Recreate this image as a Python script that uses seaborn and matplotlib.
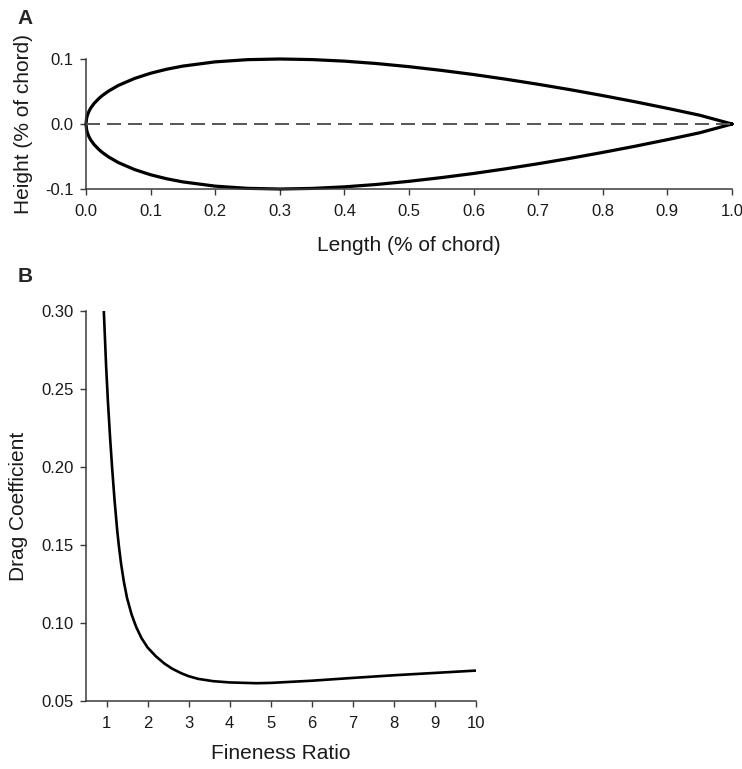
import numpy as np
import pandas as pd
import matplotlib
matplotlib.use("Agg")
import matplotlib.pyplot as plt
import seaborn as sns

# Panel A: symmetric section, half-thickness vs. chordwise position (fraction of chord)
chord_x = [0.0, 0.001, 0.0025, 0.005, 0.0075, 0.0125, 0.02, 0.025, 0.035, 0.05,
           0.075, 0.1, 0.125, 0.15, 0.2, 0.25, 0.3, 0.35, 0.4, 0.45, 0.5,
           0.55, 0.6, 0.65, 0.7, 0.75, 0.8, 0.85, 0.9, 0.95, 1.0]
half_thickness = [0.0, 0.0093, 0.0145, 0.0204, 0.0248, 0.0316, 0.0393, 0.0436, 0.0507, 0.0593,
                  0.0700, 0.0781, 0.0843, 0.0891, 0.0956, 0.0990, 0.1000, 0.0991, 0.0967, 0.0930, 0.0882,
                  0.0825, 0.0761, 0.0689, 0.0611, 0.0527, 0.0437, 0.0342, 0.0241, 0.0135, 0.0]
chord_line_x = [0.0, 1.0]
chord_line_y = [0.0, 0.0]
a_xticks = [0.0, 0.1, 0.2, 0.3, 0.4, 0.5, 0.6, 0.7, 0.8, 0.9, 1.0]
a_yticks = [-0.1, 0.0, 0.1]

# Panel B: drag coefficient vs. fineness ratio
fineness = [0.934, 0.99, 1.032, 1.088, 1.137, 1.195, 1.258, 1.30, 1.356, 1.42, 1.50,
            1.61, 1.72, 1.85, 2.0, 2.2, 2.41, 2.6, 2.82, 3.0, 3.23, 3.6, 4.0,
            4.65, 5.0, 6.0, 7.0, 8.0, 9.0, 10.0]
drag_coef = [0.300, 0.2647, 0.2429, 0.2183, 0.1992, 0.1789, 0.1600, 0.1495, 0.1377, 0.1268, 0.1160,
             0.1055, 0.0976, 0.0904, 0.0843, 0.0787, 0.0740, 0.0707, 0.0678, 0.0659, 0.0642, 0.0627, 0.0619,
             0.0614, 0.0616, 0.0630, 0.0648, 0.0665, 0.0680, 0.0695]
b_xticks = [1, 2, 3, 4, 5, 6, 7, 8, 9, 10]
b_yticks = [0.05, 0.10, 0.15, 0.20, 0.25, 0.30]

sns.set_style("ticks")
plt.rcParams["font.family"] = ["Liberation Sans", "DejaVu Sans"]

SPINE = "#3a3a3a"
TEXT = "#1a1a1a"

fig = plt.figure(figsize=(7.42, 7.69), dpi=100)
ax_a = fig.add_axes([86 / 742, 1 - 189 / 769, 646 / 742, 130 / 769])
ax_b = fig.add_axes([86 / 742, 1 - 701 / 769, 390 / 742, 390 / 769])

# closed outline: upper surface from trailing edge to nose, then lower surface back
profile = pd.DataFrame({
    "x": list(reversed(chord_x)) + chord_x[1:],
    "y": list(reversed(half_thickness)) + [-v for v in half_thickness[1:]],
})
sns.lineplot(data=profile, x="x", y="y", sort=False, estimator=None,
             color="black", linewidth=2.3, ax=ax_a, clip_on=False)
sns.lineplot(x=chord_line_x, y=chord_line_y, sort=False, estimator=None,
             color="#555555", linewidth=1.4, ax=ax_a)
ax_a.lines[-1].set_dashes([7.2, 3.6])

ax_a.set_xlim(0, 1.0)
ax_a.set_ylim(-0.1, 0.1)
ax_a.set_xticks(a_xticks)
ax_a.set_xticklabels([f"{v:.1f}" for v in a_xticks])
ax_a.set_yticks(a_yticks)
ax_a.set_yticklabels([f"{v:.1f}" for v in a_yticks])
ax_a.set_xlabel("Length (% of chord)", fontsize=15, color=TEXT)
ax_a.set_ylabel("Height (% of chord)", fontsize=15, color=TEXT)

drag = pd.DataFrame({"Fineness Ratio": fineness, "Drag Coefficient": drag_coef})
sns.lineplot(data=drag, x="Fineness Ratio", y="Drag Coefficient", sort=False,
             estimator=None, color="black", linewidth=1.9, ax=ax_b)
ax_b.set_xlim(0.5, 10)
ax_b.set_ylim(0.05, 0.30)
ax_b.set_xticks(b_xticks)
ax_b.set_yticks(b_yticks)
ax_b.set_yticklabels([f"{v:.2f}" for v in b_yticks])
ax_b.set_xlabel("Fineness Ratio", fontsize=15, color=TEXT)
ax_b.set_ylabel("Drag Coefficient", fontsize=15, color=TEXT)

for ax in (ax_a, ax_b):
    sns.despine(ax=ax)
    for side in ("left", "bottom"):
        ax.spines[side].set_color(SPINE)
        ax.spines[side].set_linewidth(1.1)
    ax.tick_params(direction="out", length=4, width=1.0, color=SPINE,
                   labelsize=12, labelcolor=TEXT, pad=5)
    ax.tick_params(axis="x", pad=7)

ax_a.xaxis.set_label_coords(0.5, -0.36)
ax_a.yaxis.set_label_coords(-0.082, 0.5)
ax_b.xaxis.set_label_coords(0.5, -0.11)
ax_b.yaxis.set_label_coords(-0.149, 0.5)

fig.text(17 / 742, 1 - 18 / 769, "A", fontsize=15, fontweight="bold", va="center", ha="left")
fig.text(18 / 742, 1 - 276 / 769, "B", fontsize=15, fontweight="bold", va="center", ha="left")

fig.savefig("out.png", dpi=100, facecolor="white")
